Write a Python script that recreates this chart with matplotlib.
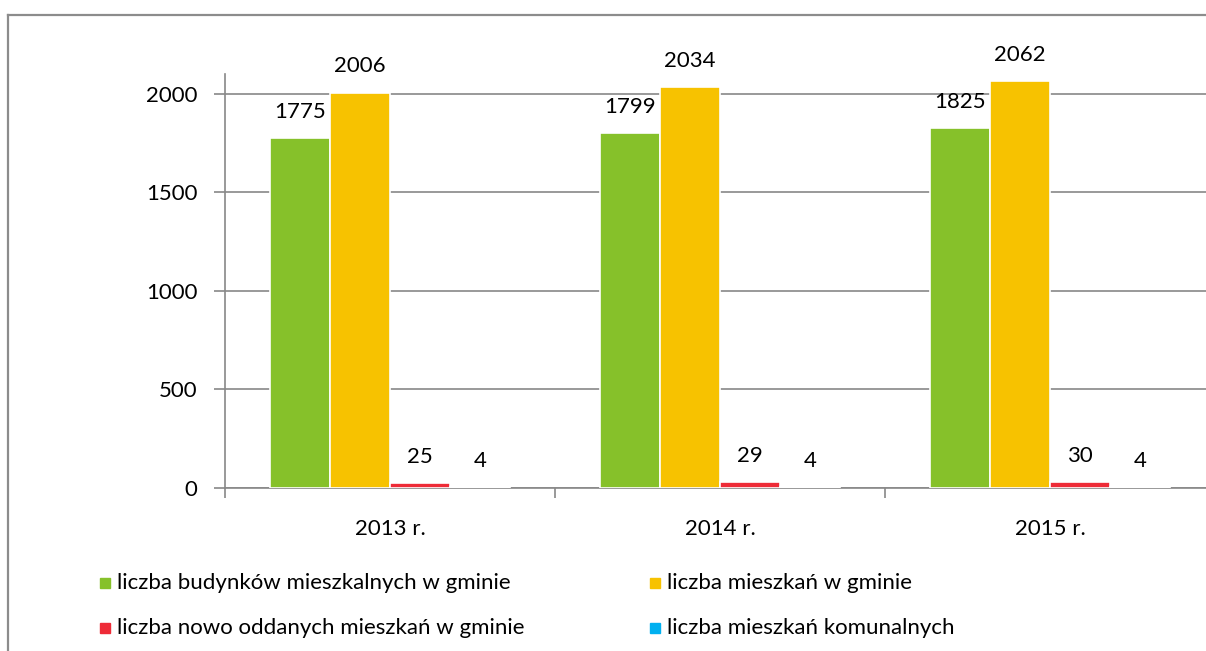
import numpy as np
import matplotlib.pyplot as plt
from matplotlib.lines import Line2D
from matplotlib.patches import Rectangle

plt.rcParams['font.family'] = ['Lato', 'DejaVu Sans']

years = ['2013 r.', '2014 r.', '2015 r.']
series = ['liczba budynków mieszkalnych w gminie',
          'liczba mieszkań w gminie',
          'liczba nowo oddanych mieszkań w gminie',
          'liczba mieszkań komunalnych']
budynki = [1775, 1799, 1825]
mieszkania = [2006, 2034, 2062]
nowe = [25, 29, 30]
komunalne = [4, 4, 4]
colors = ['#86c12a', '#f7c200', '#ee2b37', '#00b0f0']

fs = 16
fig = plt.figure(figsize=(12.06, 6.51), dpi=100)
ax = fig.add_axes([225 / 1206, 1 - 488 / 651, 990 / 1206, (488 - 74) / 651])

x = np.arange(len(years))
w = 60 / 330
values = [budynki, mieszkania, nowe, komunalne]
for i, (vals, c) in enumerate(zip(values, colors)):
    pos = x + (i - 1.5) * w
    ax.bar(pos, vals, w, color=c, edgecolor='white', linewidth=1.2, zorder=3)
    for px, v in zip(pos, vals):
        ax.annotate(str(v), (px, v), xytext=(0, 14.5), textcoords='offset points',
                    ha='center', va='baseline', fontsize=fs)

ax.set_xlim(-0.5, 2.5)
ax.set_ylim(0, 2100)
ax.set_yticks([0, 500, 1000, 1500, 2000])
ax.set_xticks(x)
ax.set_xticklabels(years)
ax.set_xticks([-0.5, 0.5, 1.5, 2.5], minor=True)
ax.tick_params(axis='x', which='major', length=0, pad=22, labelsize=fs)
ax.tick_params(axis='x', which='minor', length=7, color='#888888', width=1.2)
ax.tick_params(axis='y', length=8, color='#888888', width=1.2, pad=12, labelsize=fs)
ax.grid(axis='y', color='#888888', linewidth=1.2, zorder=0)
for s in ['top', 'right']:
    ax.spines[s].set_visible(False)
for s in ['left', 'bottom']:
    ax.spines[s].set_color('#888888')
    ax.spines[s].set_linewidth(1.2)

# outer frame
fig.add_artist(Line2D([8 / 1206, 1], [1 - 15 / 651] * 2, color='#8c8c8c', lw=1.6))
fig.add_artist(Line2D([8 / 1206] * 2, [0, 1 - 15 / 651], color='#8c8c8c', lw=1.6))

# legend
leg_pos = [(100, 583), (650, 583), (100, 628), (650, 628)]
for (lx, ly), lab, c in zip(leg_pos, series, colors):
    fig.add_artist(Rectangle((lx / 1206, 1 - (ly + 5) / 651), 10 / 1206, 10 / 651,
                             color=c, transform=fig.transFigure))
    fig.text((lx + 17) / 1206, 1 - ly / 651, lab, fontsize=fs, va='center', ha='left')

fig.savefig('out.png', dpi=100)
